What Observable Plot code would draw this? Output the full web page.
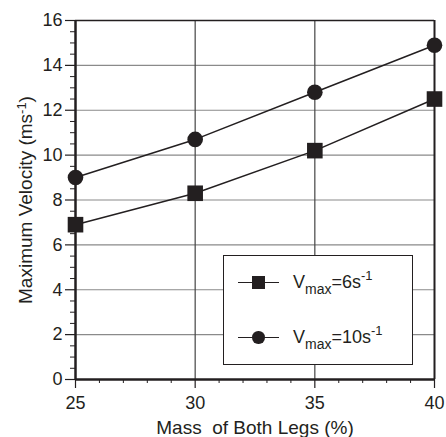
<!DOCTYPE html>
<html><head>
<meta charset="utf-8">
<script src="https://cdn.jsdelivr.net/npm/d3@7"></script>
<script src="https://cdn.jsdelivr.net/npm/@observablehq/plot@0.6"></script>
<style>
body{margin:0;background:#fff;font-family:"Liberation Sans",Arial,sans-serif;}
#wrap{position:relative;width:446px;height:437px;}
#legend{position:absolute;left:223px;top:255px;width:188px;height:108px;border:1.5px solid #231f20;background:#fff;color:#231f20;font-size:18px;line-height:18px;}
#legend .ln{position:absolute;left:13.5px;width:41px;height:0;border-top:1.5px solid #231f20;}
#legend .sq{position:absolute;left:28px;width:13px;height:13px;background:#231f20;}
#legend .ci{position:absolute;left:28px;width:12.5px;height:12.5px;border-radius:50%;background:#231f20;}
#legend .tx{position:absolute;left:69px;white-space:nowrap;}
#legend sub{font-size:14px;vertical-align:-6px;line-height:0;}
#legend sup{font-size:13px;vertical-align:8px;line-height:0;}
</style>
</head><body><div id="wrap"></div>
<script>
const mass = [25, 30, 35, 40];
const v6 = [6.9, 8.3, 10.2, 12.5];
const v10 = [9.0, 10.7, 12.8, 14.9];
const xTicks = [25, 30, 35, 40];
const xMinor = [26, 27, 28, 29, 31, 32, 33, 34, 36, 37, 38, 39];
const yTicks = [0, 2, 4, 6, 8, 10, 12, 14, 16];
const yMinor = [0.5, 1, 1.5, 2.5, 3, 3.5, 4.5, 5, 5.5, 6.5, 7, 7.5, 8.5, 9, 9.5, 10.5, 11, 11.5, 12.5, 13, 13.5, 14.5, 15, 15.5];
const hGrid = [2, 4, 6, 8, 10, 12, 14];
const vGrid = [30, 35];

const ink = "#231f20";
const d6 = mass.map((m, i) => ({m, v: v6[i]}));
const d10 = mass.map((m, i) => ({m, v: v10[i]}));

const chart = Plot.plot({
  width: 446,
  height: 437,
  marginLeft: 75,
  marginRight: 12,
  marginTop: 20,
  marginBottom: 58,
  style: {fontFamily: "'Liberation Sans', Arial, sans-serif", fontSize: "18px", color: ink, background: "#fff"},
  x: {domain: [25, 40]},
  y: {domain: [0, 16]},
  marks: [
    Plot.ruleY(hGrid, {stroke: "#8a8a8a", strokeWidth: 1.2}),
    Plot.ruleX(vGrid, {stroke: "#444", strokeWidth: 1.2}),
    Plot.ruleY([16], {stroke: ink, strokeWidth: 1.5}),
    Plot.ruleX([40], {stroke: ink, strokeWidth: 2}),
    Plot.axisY({ticks: yMinor, tickSize: 5, text: null, label: null, stroke: ink, strokeWidth: 1}),
    Plot.axisY({ticks: yTicks, tickSize: 10, tickPadding: 3, fontSize: 18, label: "Maximum Velocity (ms-1)", labelAnchor: "center", labelArrow: "none", labelOffset: 57, fill: ink, stroke: ink, strokeWidth: 1.2}),
    Plot.axisX({ticks: xMinor, tickSize: 4, text: null, label: null, stroke: ink, strokeWidth: 1}),
    Plot.axisX({ticks: xTicks, tickSize: 9, tickPadding: 8, fontSize: 18, label: "Mass\u00a0\u00a0of Both Legs (%)", labelAnchor: "center", labelArrow: "none", labelOffset: 54, fill: ink, stroke: ink, strokeWidth: 1.2}),
    Plot.ruleX([25], {stroke: ink, strokeWidth: 2.5}),
    Plot.ruleY([0], {stroke: ink, strokeWidth: 2.5}),
    Plot.line(d6, {x: "m", y: "v", stroke: ink, strokeWidth: 1.5}),
    Plot.line(d10, {x: "m", y: "v", stroke: ink, strokeWidth: 1.5}),
    Plot.dot(d6, {x: "m", y: "v", symbol: "square", r: 8.8, fill: ink}),
    Plot.dot(d10, {x: "m", y: "v", symbol: "circle", r: 7.8, fill: ink})
  ]
});

document.getElementById("wrap").appendChild(chart);

// axis label sizes and superscript in y-axis label
d3.select(chart).selectAll("text").each(function() {
  const t = d3.select(this);
  const s = t.text();
  if (s === "Maximum Velocity (ms-1)") {
    t.style("font-size", "19px");
    t.text(null);
    t.append("tspan").text("Maximum Velocity (ms");
    t.append("tspan").attr("dy", "-0.45em").style("font-size", "13px").text("-1");
    t.append("tspan").attr("dy", "0.3em").text(")");
  } else if (s.startsWith("Mass")) {
    t.style("font-size", "19px");
  }
});

const legend = document.createElement("div");
legend.id = "legend";
legend.innerHTML =
  '<div class="ln" style="top:26px"></div><div class="sq" style="top:20px"></div>' +
  '<div class="tx" style="top:17px">V<sub>max</sub>=6s<sup>-1</sup></div>' +
  '<div class="ln" style="top:81px"></div><div class="ci" style="top:75px"></div>' +
  '<div class="tx" style="top:72px">V<sub>max</sub>=10s<sup>-1</sup></div>';
document.getElementById("wrap").appendChild(legend);
</script>
</body></html>
